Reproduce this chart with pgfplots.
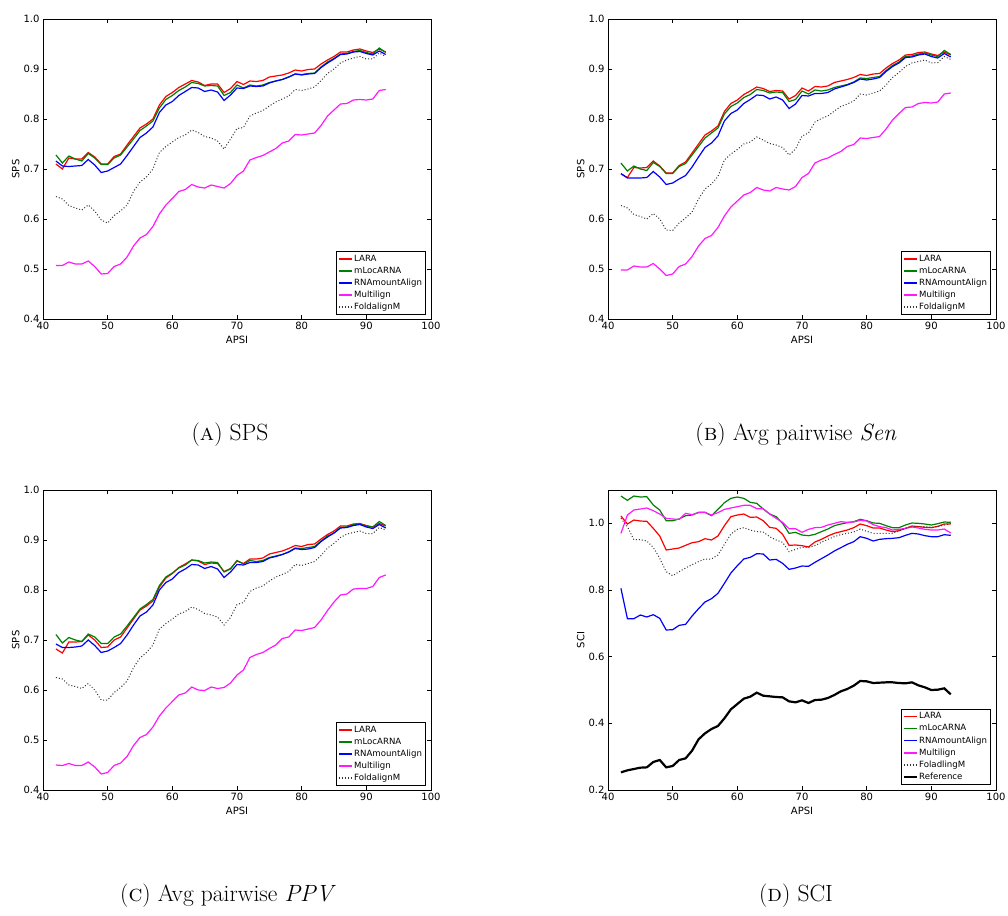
\documentclass[border=0pt]{standalone}
\usepackage{pgfplots}
\pgfplotsset{compat=1.18}
\usepackage{pgfplotstable}
\usepackage{fontspec}
\newfontfamily\dejavu{DejaVu Sans}

\pgfplotstableread{
x lara mloc rnam multi fold
42 0.710 0.728 0.716 0.507 0.645
43 0.700 0.712 0.706 0.507 0.640
44 0.722 0.726 0.705 0.514 0.627
45 0.720 0.720 0.706 0.510 0.622
46 0.720 0.716 0.707 0.510 0.618
47 0.733 0.731 0.719 0.516 0.628
48 0.724 0.722 0.708 0.505 0.616
49 0.710 0.709 0.693 0.490 0.598
50 0.710 0.709 0.696 0.491 0.592
51 0.725 0.722 0.703 0.505 0.607
52 0.730 0.728 0.710 0.510 0.616
53 0.748 0.744 0.727 0.524 0.628
54 0.765 0.760 0.745 0.546 0.655
55 0.782 0.777 0.763 0.562 0.674
56 0.790 0.786 0.772 0.569 0.684
57 0.800 0.796 0.784 0.585 0.700
58 0.828 0.822 0.813 0.610 0.733
59 0.845 0.839 0.828 0.628 0.745
60 0.853 0.847 0.835 0.641 0.754
61 0.863 0.857 0.847 0.655 0.763
62 0.870 0.864 0.855 0.659 0.768
63 0.877 0.873 0.863 0.669 0.778
64 0.874 0.871 0.862 0.664 0.773
65 0.867 0.866 0.855 0.662 0.765
66 0.870 0.867 0.858 0.668 0.762
67 0.870 0.866 0.854 0.665 0.756
68 0.853 0.847 0.837 0.662 0.740
69 0.861 0.853 0.848 0.671 0.760
70 0.875 0.868 0.862 0.687 0.781
71 0.869 0.862 0.861 0.696 0.783
72 0.876 0.868 0.866 0.718 0.806
73 0.875 0.866 0.865 0.723 0.812
74 0.877 0.868 0.866 0.727 0.817
75 0.884 0.873 0.872 0.734 0.826
76 0.886 0.876 0.876 0.741 0.834
77 0.888 0.879 0.879 0.752 0.840
78 0.892 0.884 0.884 0.756 0.846
79 0.898 0.890 0.890 0.769 0.859
80 0.896 0.889 0.888 0.768 0.857
81 0.899 0.891 0.890 0.770 0.860
82 0.900 0.892 0.891 0.772 0.864
83 0.910 0.904 0.903 0.787 0.877
84 0.918 0.914 0.912 0.806 0.891
85 0.925 0.921 0.920 0.818 0.900
86 0.934 0.930 0.929 0.830 0.912
87 0.934 0.931 0.930 0.831 0.918
88 0.938 0.935 0.934 0.838 0.922
89 0.940 0.937 0.935 0.839 0.925
90 0.936 0.933 0.931 0.838 0.920
91 0.933 0.930 0.928 0.840 0.920
92 0.940 0.942 0.936 0.857 0.932
93 0.934 0.933 0.929 0.859 0.925
}\dataA

\pgfplotstableread{
x lara mloc rnam multi fold
42 0.690 0.712 0.691 0.498 0.627
43 0.683 0.696 0.682 0.498 0.622
44 0.703 0.706 0.682 0.506 0.609
45 0.702 0.700 0.682 0.504 0.605
46 0.703 0.697 0.683 0.504 0.600
47 0.716 0.713 0.695 0.511 0.611
48 0.706 0.705 0.684 0.500 0.600
49 0.692 0.691 0.669 0.487 0.578
50 0.692 0.691 0.672 0.490 0.577
51 0.707 0.705 0.680 0.505 0.592
52 0.714 0.711 0.687 0.510 0.602
53 0.732 0.728 0.704 0.525 0.614
54 0.750 0.745 0.724 0.546 0.640
55 0.768 0.762 0.743 0.561 0.660
56 0.776 0.772 0.752 0.567 0.670
57 0.786 0.782 0.766 0.583 0.685
58 0.815 0.810 0.796 0.606 0.718
59 0.831 0.825 0.811 0.624 0.730
60 0.838 0.832 0.818 0.636 0.739
61 0.849 0.843 0.831 0.648 0.750
62 0.856 0.849 0.839 0.653 0.754
63 0.864 0.859 0.848 0.663 0.764
64 0.861 0.857 0.847 0.658 0.758
65 0.855 0.852 0.840 0.656 0.751
66 0.857 0.854 0.844 0.663 0.748
67 0.856 0.853 0.838 0.660 0.743
68 0.840 0.835 0.821 0.658 0.728
69 0.847 0.839 0.830 0.665 0.740
70 0.862 0.856 0.847 0.683 0.766
71 0.856 0.850 0.846 0.691 0.772
72 0.865 0.858 0.851 0.712 0.794
73 0.864 0.856 0.851 0.718 0.801
74 0.866 0.858 0.853 0.722 0.806
75 0.873 0.863 0.860 0.729 0.816
76 0.876 0.866 0.864 0.735 0.825
77 0.879 0.869 0.868 0.745 0.830
78 0.883 0.874 0.873 0.749 0.836
79 0.889 0.882 0.880 0.762 0.850
80 0.887 0.881 0.878 0.761 0.848
81 0.890 0.883 0.880 0.763 0.852
82 0.891 0.885 0.883 0.765 0.856
83 0.902 0.897 0.895 0.780 0.868
84 0.911 0.907 0.905 0.798 0.883
85 0.918 0.914 0.912 0.811 0.893
86 0.928 0.925 0.923 0.823 0.905
87 0.929 0.926 0.924 0.824 0.912
88 0.933 0.930 0.928 0.831 0.915
89 0.934 0.932 0.930 0.833 0.918
90 0.930 0.928 0.925 0.832 0.912
91 0.927 0.925 0.922 0.834 0.913
92 0.934 0.937 0.931 0.850 0.925
93 0.928 0.929 0.924 0.852 0.919
}\dataB

\pgfplotstableread{
x lara mloc rnam multi fold
42 0.682 0.711 0.692 0.450 0.625
43 0.674 0.694 0.685 0.449 0.622
44 0.696 0.705 0.685 0.453 0.610
45 0.696 0.700 0.686 0.449 0.607
46 0.697 0.697 0.688 0.449 0.603
47 0.710 0.712 0.700 0.456 0.613
48 0.700 0.706 0.689 0.446 0.600
49 0.685 0.693 0.675 0.432 0.580
50 0.686 0.693 0.678 0.435 0.580
51 0.700 0.706 0.685 0.449 0.595
52 0.706 0.712 0.693 0.454 0.605
53 0.724 0.728 0.710 0.467 0.618
54 0.742 0.745 0.730 0.489 0.645
55 0.760 0.762 0.748 0.505 0.664
56 0.768 0.771 0.756 0.511 0.675
57 0.778 0.781 0.770 0.526 0.690
58 0.806 0.809 0.800 0.548 0.722
59 0.824 0.826 0.815 0.564 0.733
60 0.833 0.834 0.822 0.577 0.742
61 0.845 0.844 0.835 0.590 0.752
62 0.852 0.850 0.842 0.594 0.757
63 0.860 0.860 0.851 0.606 0.766
64 0.858 0.859 0.850 0.600 0.761
65 0.851 0.854 0.843 0.599 0.753
66 0.854 0.856 0.847 0.606 0.750
67 0.853 0.855 0.842 0.603 0.746
68 0.837 0.836 0.825 0.605 0.730
69 0.843 0.842 0.836 0.614 0.745
70 0.858 0.859 0.851 0.630 0.771
71 0.853 0.852 0.850 0.640 0.775
72 0.862 0.859 0.855 0.665 0.797
73 0.862 0.857 0.855 0.671 0.804
74 0.864 0.859 0.857 0.675 0.808
75 0.872 0.865 0.864 0.683 0.818
76 0.875 0.868 0.867 0.690 0.826
77 0.878 0.871 0.871 0.703 0.831
78 0.883 0.876 0.876 0.706 0.837
79 0.889 0.884 0.883 0.720 0.851
80 0.887 0.883 0.881 0.719 0.849
81 0.891 0.885 0.882 0.722 0.853
82 0.892 0.887 0.885 0.725 0.857
83 0.902 0.898 0.897 0.740 0.869
84 0.911 0.908 0.906 0.759 0.884
85 0.918 0.914 0.914 0.776 0.893
86 0.928 0.925 0.924 0.790 0.905
87 0.928 0.926 0.925 0.792 0.912
88 0.932 0.931 0.929 0.802 0.915
89 0.933 0.932 0.931 0.803 0.918
90 0.929 0.928 0.926 0.803 0.913
91 0.926 0.926 0.923 0.807 0.913
92 0.933 0.937 0.931 0.825 0.925
93 0.928 0.929 0.924 0.830 0.920
}\dataC

\pgfplotstableread{
x lara mloc rnam multi fold ref
42 1.022 1.082 0.805 0.970 1.015 0.253
43 0.998 1.069 0.714 1.025 0.990 0.259
44 1.010 1.082 0.714 1.040 0.951 0.263
45 1.007 1.079 0.725 1.043 0.951 0.267
46 1.006 1.080 0.719 1.046 0.947 0.268
47 0.985 1.055 0.726 1.038 0.928 0.284
48 0.962 1.040 0.715 1.028 0.895 0.290
49 0.920 1.008 0.680 1.015 0.855 0.268
50 0.923 1.008 0.681 1.013 0.843 0.272
51 0.926 1.013 0.694 1.012 0.855 0.290
52 0.934 1.023 0.697 1.030 0.866 0.295
53 0.942 1.025 0.722 1.026 0.876 0.318
54 0.945 1.033 0.744 1.032 0.885 0.352
55 0.954 1.033 0.764 1.033 0.893 0.370
56 0.950 1.023 0.774 1.025 0.893 0.383
57 0.962 1.042 0.790 1.032 0.905 0.392
58 0.993 1.062 0.820 1.042 0.937 0.415
59 1.020 1.075 0.851 1.046 0.968 0.442
60 1.025 1.079 0.873 1.050 0.982 0.458
61 1.028 1.075 0.893 1.054 0.987 0.474
62 1.018 1.063 0.898 1.054 0.980 0.480
63 1.019 1.060 0.909 1.044 0.975 0.492
64 1.008 1.043 0.908 1.044 0.974 0.483
65 0.988 1.028 0.890 1.028 0.960 0.481
66 0.985 1.020 0.892 1.015 0.950 0.479
67 0.967 1.000 0.880 1.003 0.943 0.478
68 0.934 0.970 0.862 0.984 0.915 0.466
69 0.935 0.973 0.866 0.984 0.922 0.463
70 0.933 0.965 0.872 0.973 0.928 0.469
71 0.929 0.963 0.871 0.982 0.928 0.461
72 0.944 0.967 0.883 0.987 0.933 0.470
73 0.952 0.975 0.894 0.988 0.943 0.471
74 0.962 0.983 0.905 0.995 0.952 0.476
75 0.970 0.993 0.917 1.000 0.960 0.485
76 0.975 0.998 0.927 1.005 0.966 0.496
77 0.980 1.002 0.937 1.003 0.970 0.503
78 0.987 1.005 0.945 1.004 0.974 0.513
79 0.998 1.012 0.960 1.009 0.983 0.527
80 0.993 1.008 0.955 1.007 0.976 0.526
81 0.986 1.001 0.947 0.996 0.970 0.521
82 0.986 1.000 0.952 0.990 0.970 0.522
83 0.980 0.993 0.954 0.987 0.970 0.523
84 0.975 0.987 0.955 0.980 0.970 0.523
85 0.978 0.987 0.957 0.982 0.978 0.521
86 0.985 0.995 0.964 0.985 0.985 0.520
87 0.992 1.001 0.970 0.989 0.990 0.523
88 0.990 1.000 0.968 0.986 0.990 0.514
89 0.988 0.998 0.963 0.982 0.990 0.508
90 0.987 0.995 0.960 0.980 0.988 0.500
91 0.991 0.999 0.960 0.980 0.990 0.501
92 0.998 1.004 0.966 0.983 0.995 0.505
93 0.998 1.003 0.964 0.971 1.000 0.487
}\dataD

\definecolor{mplgreen}{rgb}{0,0.5,0}
\definecolor{mplmag}{rgb}{1,0.1,1}

\pgfplotsset{
  myax/.style={
    scale only axis, width=388pt, height=300pt,
    xmin=40, xmax=100, xtick={40,50,60,70,80,90,100},
    tick align=inside, major tick length=4pt,
    axis line style={line width=0.8pt},
    every tick/.style={line width=0.6pt, black},
    ticklabel style={font=\dejavu\fontsize{10}{12}\selectfont},
    /pgf/number format/assume math mode=true,
    yticklabel style={/pgf/number format/.cd, fixed, fixed zerofill, precision=1},
    label style={font=\dejavu\fontsize{10}{12}\selectfont},
    xlabel={APSI},
    xlabel style={at={(axis description cs:0.5,-0.07)}, anchor=center},
    ylabel style={at={(axis description cs:-0.07,0.5)}, anchor=center},
    legend cell align=left,
    legend style={anchor=south east, draw=black, line width=0.8pt,
      font=\dejavu\fontsize{8.6}{10}\selectfont,
      inner xsep=2pt, inner ysep=1.5pt,
      nodes={inner sep=1.6pt, text height=6.8pt, text depth=2.1pt}},
    legend image code/.code={\draw[line width=1.5pt,#1] (0pt,0pt) -- (13pt,0pt);},
  },
  sLARA/.style={red, line width=1.2pt},
  sMLOC/.style={mplgreen, line width=1.2pt},
  sRNAM/.style={blue, line width=1.2pt},
  sMULTI/.style={mplmag, line width=1.2pt},
  sFOLD/.style={black!80, line width=1pt, dash pattern=on 1pt off 2pt},
  sREF/.style={black, line width=2.2pt},
}

\begin{document}
\begin{tikzpicture}
\useasboundingbox (0pt,0pt) rectangle (1008pt,-915pt);

% (a)
\begin{axis}[myax, at={(43pt,-319pt)}, anchor=south west,
  ymin=0.4, ymax=1.0, ytick={0.4,0.5,0.6,0.7,0.8,0.9,1.0}, ylabel={SPS},
  legend style={at={(rel axis cs:0.987,0.013)}}]
\addplot[sLARA] table[x=x,y=lara]{\dataA};
\addplot[sMLOC] table[x=x,y=mloc]{\dataA};
\addplot[sRNAM] table[x=x,y=rnam]{\dataA};
\addplot[sMULTI] table[x=x,y=multi]{\dataA};
\addplot[sFOLD] table[x=x,y=fold]{\dataA};
\legend{LARA,mLocARNA,RNAmountAlign,Multilign,FoldalignM}
\end{axis}

% (b)
\begin{axis}[myax, at={(608pt,-319pt)}, anchor=south west,
  ymin=0.4, ymax=1.0, ytick={0.4,0.5,0.6,0.7,0.8,0.9,1.0}, ylabel={SPS},
  legend style={at={(rel axis cs:0.987,0.013)}}]
\addplot[sLARA] table[x=x,y=lara]{\dataB};
\addplot[sMLOC] table[x=x,y=mloc]{\dataB};
\addplot[sRNAM] table[x=x,y=rnam]{\dataB};
\addplot[sMULTI] table[x=x,y=multi]{\dataB};
\addplot[sFOLD] table[x=x,y=fold]{\dataB};
\legend{LARA,mLocARNA,RNAmountAlign,Multilign,FoldalignM}
\end{axis}

% (c)
\begin{axis}[myax, at={(43pt,-790pt)}, anchor=south west,
  ymin=0.4, ymax=1.0, ytick={0.4,0.5,0.6,0.7,0.8,0.9,1.0}, ylabel={SPS},
  legend style={at={(rel axis cs:0.987,0.013)}}]
\addplot[sLARA] table[x=x,y=lara]{\dataC};
\addplot[sMLOC] table[x=x,y=mloc]{\dataC};
\addplot[sRNAM] table[x=x,y=rnam]{\dataC};
\addplot[sMULTI] table[x=x,y=multi]{\dataC};
\addplot[sFOLD] table[x=x,y=fold]{\dataC};
\legend{LARA,mLocARNA,RNAmountAlign,Multilign,FoldalignM}
\end{axis}

% (d)
\begin{axis}[myax, at={(608pt,-790pt)}, anchor=south west,
  ymin=0.2, ymax=1.1, ytick={0.2,0.4,0.6,0.8,1.0}, ylabel={SCI},
  legend style={at={(rel axis cs:0.987,0.017)}}]
\addplot[sLARA] table[x=x,y=lara]{\dataD};
\addplot[sMLOC] table[x=x,y=mloc]{\dataD};
\addplot[sRNAM] table[x=x,y=rnam]{\dataD};
\addplot[sMULTI] table[x=x,y=multi]{\dataD};
\addplot[sFOLD] table[x=x,y=fold]{\dataD};
\addplot[sREF] table[x=x,y=ref]{\dataD};
\legend{LARA,mLocARNA,RNAmountAlign,Multilign,FoladlingM,Reference}
\end{axis}

\node[font=\fontsize{23.5}{28}\selectfont, anchor=base] at (230pt,-440pt) {(\textsc{a}) SPS};
\node[font=\fontsize{23.5}{28}\selectfont, anchor=base] at (796pt,-440pt) {(\textsc{b}) Avg pairwise \textit{Sen}};
\node[font=\fontsize{23.5}{28}\selectfont, anchor=base] at (228pt,-901pt) {(\textsc{c}) Avg pairwise \textit{PPV}};
\node[font=\fontsize{23.5}{28}\selectfont, anchor=base] at (796pt,-901pt) {(\textsc{d}) SCI};
\end{tikzpicture}
\end{document}
